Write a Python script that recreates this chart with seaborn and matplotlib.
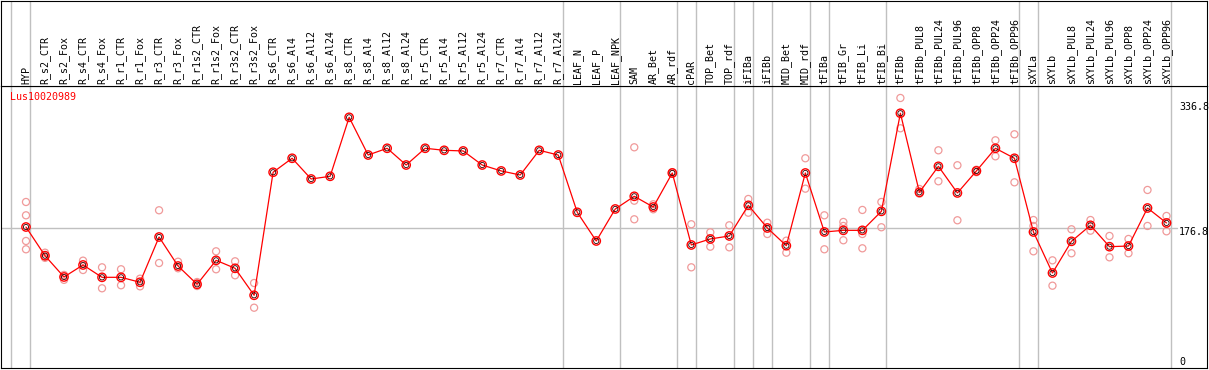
import matplotlib
matplotlib.use('Agg')
import matplotlib.pyplot as plt
import pandas as pd
import seaborn as sns

# sample names (header labels)
names = ['HYP', 'R_s2_CTR', 'R_s2_Fox', 'R_s4_CTR', 'R_s4_Fox', 'R_r1_CTR', 'R_r1_Fox',
         'R_r3_CTR', 'R_r3_Fox', 'R_r1s2_CTR', 'R_r1s2_Fox', 'R_r3s2_CTR', 'R_r3s2_Fox',
         'R_s6_CTR', 'R_s6_Al4', 'R_s6_Al12', 'R_s6_Al24', 'R_s8_CTR', 'R_s8_Al4',
         'R_s8_Al12', 'R_s8_Al24', 'R_r5_CTR', 'R_r5_Al4', 'R_r5_Al12', 'R_r5_Al24',
         'R_r7_CTR', 'R_r7_Al4', 'R_r7_Al12', 'R_r7_Al24', 'LEAF_N', 'LEAF_P', 'LEAF_NPK',
         'SAM', 'AR_Bet', 'AR_rdf', 'cPAR', 'TOP_Bet', 'TOP_rdf', 'iFIBa', 'iFIBb',
         'MID_Bet', 'MID_rdf', 'tFIBa', 'tFIB_Gr', 'tFIB_Li', 'tFIB_Bi', 'tFIBb',
         'tFIBb_PUL8', 'tFIBb_PUL24', 'tFIBb_PUL96', 'tFIBb_OPP8', 'tFIBb_OPP24',
         'tFIBb_OPP96', 'sXYLa', 'sXYLb', 'sXYLb_PUL8', 'sXYLb_PUL24', 'sXYLb_PUL96',
         'sXYLb_OPP8', 'sXYLb_OPP24', 'sXYLb_OPP96']

# mean expression per sample
means = [178.0, 142.7, 116.5, 131.3, 116.1, 116.1, 110.0, 165.7, 130.0, 107.5, 137.0,
         127.2, 94.0, 245.4, 262.6, 237.1, 240.4, 313.0, 266.6, 274.9, 254.3, 274.9,
         272.4, 271.6, 254.3, 247.0, 242.0, 272.4, 266.6, 196.1, 160.8, 200.2, 215.8,
         202.6, 244.5, 155.9, 163.3, 167.0, 204.7, 176.8, 155.0, 244.5, 171.9, 173.9,
         173.9, 197.3, 318.0, 220.7, 252.7, 219.9, 247.0, 274.9, 262.6, 171.9, 121.4,
         160.4, 180.1, 153.8, 154.6, 201.4, 183.0]

# individual replicates per sample
replicates = [
    [208.8, 192.4, 160.8, 150.6], [146.4, 141.5, 140.0], [119.0, 113.0], [136.6, 125.1],
    [128.4, 102.6], [126.0, 106.3], [114.4, 105.0], [198.6, 133.7], [135.3, 127.2],
    [110.3, 105.4], [148.1, 126.0], [135.8, 118.6], [109.1, 78.7],
    [], [], [], [], [], [], [], [], [], [], [], [], [], [], [], [],
    [], [], [],
    [276.1, 210.4, 187.5], [206.0, 199.8], [245.5, 243.5], [181.4, 128.4],
    [171.5, 153.8], [180.1, 153.0], [212.5, 195.6], [183.3, 169.4], [161.2, 146.4],
    [262.6, 225.2], [192.4, 150.6], [184.2, 179.3, 161.7], [199.0, 169.4, 151.8],
    [208.8, 177.7], [336.8, 299.5], [224.8, 219.0], [272.4, 234.3], [254.0, 186.3],
    [248.5, 245.5], [284.7, 265.0], [292.1, 233.0], [186.6, 179.3, 148.1],
    [137.0, 105.8], [175.2, 145.7], [186.6, 173.5], [167.0, 140.7], [163.3, 145.7],
    [223.6, 179.3], [191.6, 172.7]]

# last sample index of each tissue group (vertical separators)
group_ends = [0, 28, 31, 34, 35, 37, 38, 39, 41, 42, 45, 52, 53, 60]

gene = 'Lus10020989'
ref_labels = ['336.8', '176.8', '0']

sns.set_style('white')
plt.rcParams['font.family'] = ['DejaVu Sans Mono', 'DejaVu Sans']

df_mean = pd.DataFrame({'x': range(len(names)), 'value': means})
df_rep = pd.DataFrame([(i, v) for i, reps in enumerate(replicates) for v in reps],
                      columns=['x', 'value'])

W, H = 1209, 370
fig = plt.figure(figsize=(W / 100, H / 100), dpi=100)
top_y, bot_y = 85.7, 368.0
ax = fig.add_axes([1 / W, (H - bot_y) / H, 1206 / W, (bot_y - top_y) / H])
axh = fig.add_axes([1 / W, (H - top_y) / H, 1206 / W, (top_y - 0.5) / H])

xlim = (-1.315, 62.13)
for a in (ax, axh):
    a.set_xlim(*xlim)
    a.set_xticks([])
    a.set_yticks([])
    a.set_xlabel('')
    a.set_ylabel('')
    for s in a.spines.values():
        s.set_color('black')
        s.set_linewidth(0.8)
    a.axvline(-0.8, color='#c0c0c0', lw=1)
    for g in group_ends:
        a.axvline(g + 0.23, color='#c0c0c0', lw=1)
axh.set_ylim(0, 1)
ax.set_ylim(4.5, 351.9)

ax.axhline(176.8, xmin=0, xmax=0.975, color='#c0c0c0', lw=1)

sns.scatterplot(data=df_rep, x='x', y='value', ax=ax, marker='o', s=26,
                facecolor='none', edgecolor='#f09a9a', linewidth=0.9, zorder=3)
sns.lineplot(data=df_mean, x='x', y='value', ax=ax, color='red', lw=0.9, zorder=4)
sns.scatterplot(data=df_mean, x='x', y='value', ax=ax, marker='o', s=36,
                facecolor='none', edgecolor='red', linewidth=1.0, zorder=5)
sns.scatterplot(data=df_mean, x='x', y='value', ax=ax, marker='o', s=14,
                facecolor='none', edgecolor='#300000', linewidth=0.6, zorder=6)
ax.set_xlabel('')
ax.set_ylabel('')
ax.set_xlim(*xlim)

for i, n in enumerate(names):
    axh.annotate(n, (i, 0), xycoords=('data', 'axes fraction'), xytext=(0, 1.5),
                 textcoords='offset points', rotation=90, ha='center', va='bottom',
                 fontsize=7.2, color='black')

ax.text(0.0075, 0.978, gene, transform=ax.transAxes, ha='left', va='top',
        fontsize=7.2, color='red')
for lab, yf in zip(ref_labels, [0.9245, 0.4818, 0.0213]):
    ax.text(0.9768, yf, lab, transform=ax.transAxes, ha='left', va='center',
            fontsize=7.2, color='black')

fig.savefig('out.png', dpi=100)
